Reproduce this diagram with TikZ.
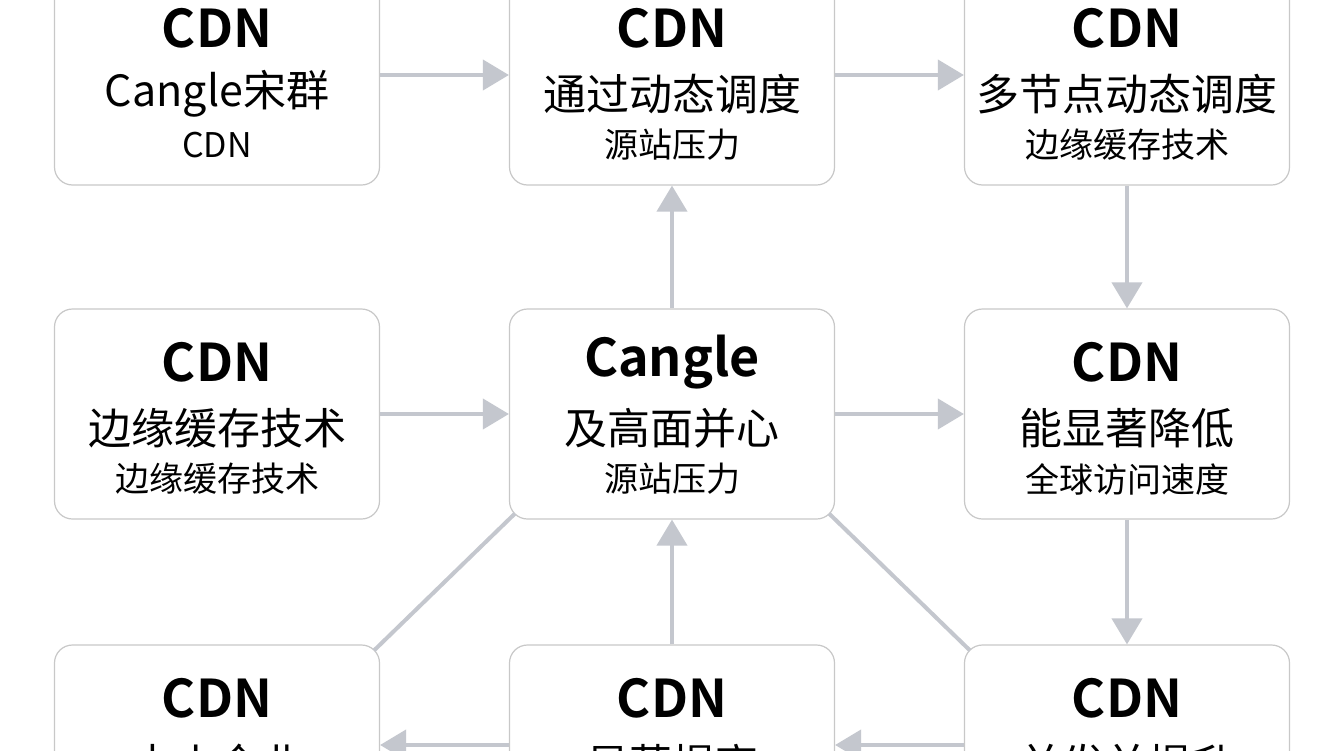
\documentclass[tikz,border=0pt]{standalone}
\usepackage{fontspec}
\setmainfont{Noto Sans CJK SC}[BoldFont={* Bold}]
\usetikzlibrary{arrows.meta}
\definecolor{ln}{RGB}{196,199,206}
\definecolor{bd}{RGB}{200,200,200}
\begin{document}
\begin{tikzpicture}[x=1pt,y=-1pt,
 box/.style={draw=bd,line width=1.2pt,rounded corners=18pt,fill=white,minimum width=325pt,minimum height=210pt,inner sep=0pt},
 t1/.style={font=\fontsize{52}{60}\selectfont\bfseries,inner sep=0pt},
 t2/.style={font=\fontsize{43}{50}\selectfont,inner sep=0pt},
 t3/.style={font=\fontsize{34}{40}\selectfont,inner sep=0pt},
 ar/.style={draw=ln,line width=4pt,-{Triangle[length=26pt,width=30pt]}},
 li/.style={draw=ln,line width=4pt}]
\useasboundingbox[fill=white] (0,0) rectangle (1344,750);
\foreach \n/\x/\y/\A/\B/\C in {a/217/80/CDN/Cangle宋群/CDN, b/672/80/CDN/通过动态调度/源站压力, c/1127/80/CDN/多节点动态调度/边缘缓存技术, d/217/414/CDN/边缘缓存技术/边缘缓存技术, e/672/414/Cangle/及高面并心/源站压力, f/1127/414/CDN/能显著降低/全球访问速度, g/217/750/CDN/中小企业/{}, h/672/750/CDN/显著提高/{}, i/1127/750/CDN/并发并提升/{}}{
 \node[box] (\n) at (\x,\y) {};
 \node[t1] (\n1) at (\x,\y-52) {\A};
 \node[t2] (\n2) at (\x,\y+14) {\B};
 \node[t3] (\n3) at (\x,\y+65) {\C};
}
\draw[ar] (a.east|-0,75) -- (b.west|-0,75);
\draw[ar] (b.east|-0,75) -- (c.west|-0,75);
\draw[ar] (e.north) -- (b.south);
\draw[ar] (c.south) -- (f.north);
\draw[ar] (d.east) -- (e.west);
\draw[ar] (e.east) -- (f.west);
\draw[ar] (f.south) -- (i.north);
\draw[ar] (h.north) -- (e.south);
\draw[ar] (i.west|-0,745) -- (h.east|-0,745);
\draw[ar] (h.west|-0,745) -- (g.east|-0,745);
\draw[li] ([shift={(6,-6)}]e.south west) -- ([shift={(-6,6)}]g.north east);
\draw[li] ([shift={(-6,-6)}]e.south east) -- ([shift={(6,6)}]i.north west);
\end{tikzpicture}
\end{document}
